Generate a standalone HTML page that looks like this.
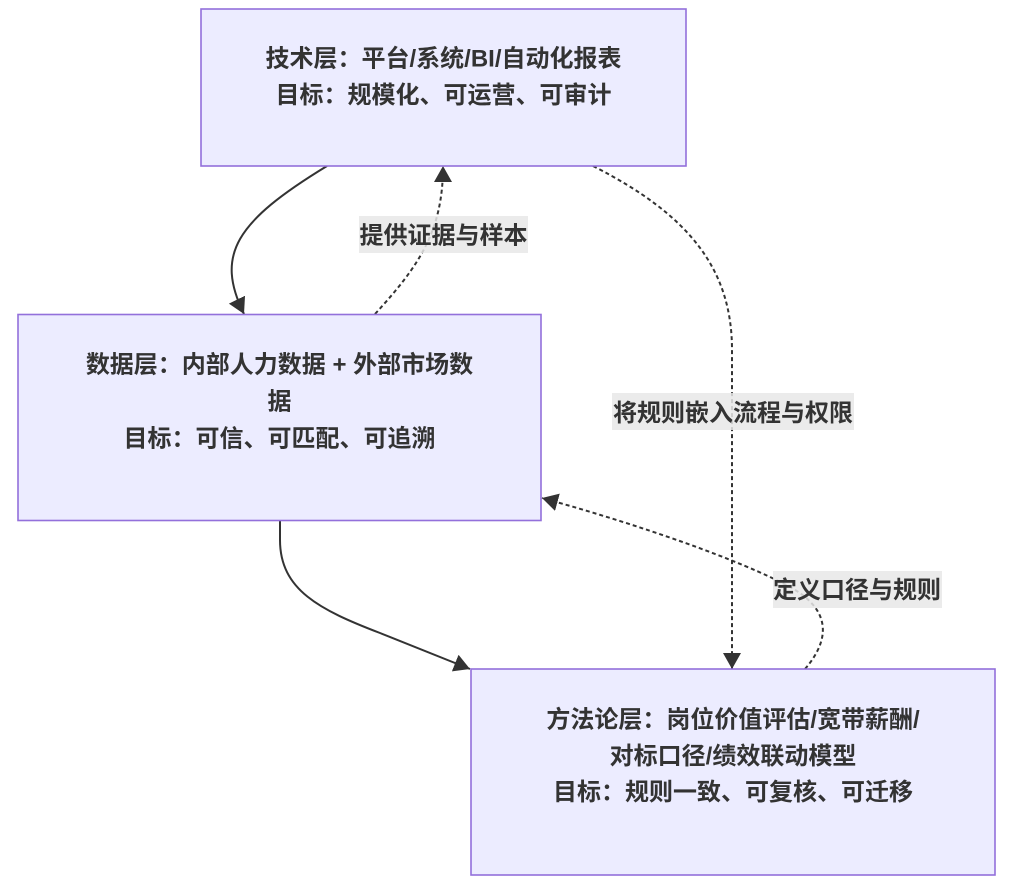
<!DOCTYPE html>
<html>
<head>
<meta charset="utf-8">
<style>
  html, body { margin:0; padding:0; background:#ffffff; }
  body { width:1025px; height:881px; overflow:hidden; }
  svg { display:block; }
  .t { font-family: "Liberation Sans", "Noto Sans CJK SC", sans-serif; font-size:24px; font-weight:bold; fill:#333333; }
</style>
</head>
<body>
<svg width="1025" height="881" viewBox="0 0 1025 881" xmlns="http://www.w3.org/2000/svg">
  <defs>
    <marker id="ah" markerUnits="userSpaceOnUse" markerWidth="18" markerHeight="19" refX="16" refY="9" orient="auto">
      <path d="M0,0 L16,9 L0,18 z" fill="#333333"/>
    </marker>
  </defs>
  <rect x="0" y="0" width="1025" height="881" fill="#ffffff"/>

  <!-- edges -->
  <g fill="none" stroke="#333333" stroke-width="2">
    <!-- tech -> data (solid) -->
    <path d="M327,166 C235,222 215,255 244,314" marker-end="url(#ah)"/>
    <!-- data -> tech (dashed) -->
    <path d="M375,314 C420,265 443,230 443,166" stroke-dasharray="4 3" marker-end="url(#ah)"/>
    <!-- tech -> method (dashed) -->
    <path d="M593,166 C690,215 732,270 732,350 L732,669" stroke-dasharray="4 3" marker-end="url(#ah)"/>
    <!-- data -> method (solid) -->
    <path d="M280,520 L280,540 C280,590 320,610 380,633 L470,669" marker-end="url(#ah)"/>
    <!-- method -> data (dashed) -->
    <path d="M805,669 C830,640 832,610 790,587 C740,560 640,525 542,498" stroke-dasharray="4 3" marker-end="url(#ah)"/>
  </g>

  <!-- edge labels -->
  <rect x="359" y="216" width="169" height="37" fill="rgba(232,232,232,0.85)"/>
  <text class="t" x="443.5" y="243.5" text-anchor="middle">提供证据与样本</text>

  <rect x="612" y="393" width="242" height="37" fill="rgba(232,232,232,0.85)"/>
  <text class="t" x="733" y="421" text-anchor="middle">将规则嵌入流程与权限</text>

  <rect x="773" y="571" width="169" height="37" fill="rgba(232,232,232,0.85)"/>
  <text class="t" x="857" y="598" text-anchor="middle">定义口径与规则</text>

  <!-- nodes -->
  <rect x="201" y="9" width="485" height="157" fill="#ECECFF" stroke="#9370DB" stroke-width="1.6"/>
  <text class="t" x="443.5" y="66.5" text-anchor="middle">技术层：平台/系统/BI/自动化报表</text>
  <text class="t" x="443.5" y="103" text-anchor="middle">目标：规模化、可运营、可审计</text>

  <rect x="18" y="314.5" width="523" height="206" fill="#ECECFF" stroke="#9370DB" stroke-width="1.6"/>
  <text class="t" x="279.5" y="372.7" text-anchor="middle">数据层：内部人力数据 + 外部市场数</text>
  <text class="t" x="279.5" y="409.6" text-anchor="middle">据</text>
  <text class="t" x="279.5" y="446.5" text-anchor="middle">目标：可信、可匹配、可追溯</text>

  <rect x="471" y="669" width="524" height="206" fill="#ECECFF" stroke="#9370DB" stroke-width="1.6"/>
  <text class="t" x="733" y="727.3" text-anchor="middle">方法论层：岗位价值评估/宽带薪酬/</text>
  <text class="t" x="733" y="763.8" text-anchor="middle">对标口径/绩效联动模型</text>
  <text class="t" x="733" y="800" text-anchor="middle">目标：规则一致、可复核、可迁移</text>
</svg>
</body>
</html>
